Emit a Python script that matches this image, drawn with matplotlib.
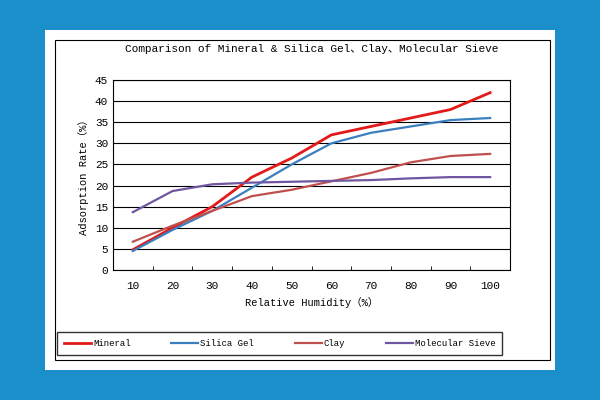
import numpy as np
import matplotlib.pyplot as plt
from matplotlib.patches import Rectangle

# Datos
humidity = ['10', '20', '30', '40', '50', '60', '70', '80', '90', '100']
mineral = [4.8, 10.0, 15.0, 22.0, 26.5, 32.0, 34.0, 36.0, 38.0, 42.0]
silica_gel = [4.5, 9.5, 14.0, 19.5, 25.0, 30.0, 32.5, 34.0, 35.5, 36.0]
clay = [6.7, 10.5, 14.0, 17.5, 19.0, 21.0, 23.0, 25.5, 27.0, 27.5]
molecular_sieve = [13.7, 18.7, 20.3, 20.7, 20.9, 21.1, 21.3, 21.7, 22.0, 22.0]

plt.rcParams['font.family'] = 'Liberation Mono'

# Figura con fondo azul y tarjeta blanca
fig = plt.figure(figsize=(6, 4), dpi=100, facecolor='#1a8fc9')
fig.patches.append(Rectangle((45/600, 1-370/400), 510/600, 340/400, transform=fig.transFigure,
                             facecolor='white', edgecolor='none', zorder=-2))
fig.patches.append(Rectangle((55/600, 1-360/400), 495/600, 320/400, transform=fig.transFigure,
                             facecolor='none', edgecolor='black', lw=0.8, zorder=-1))

ax = fig.add_axes([113/600, 1-270/400, 397/600, 190/400])
ax.set_zorder(2)
x = np.arange(len(humidity))
ax.plot(x, mineral, color='#e31a1a', lw=2, label='Mineral')
ax.plot(x, silica_gel, color='#3a7fc0', lw=1.6, label='Silica Gel')
ax.plot(x, clay, color='#c0504d', lw=1.6, label='Clay')
ax.plot(x, molecular_sieve, color='#7056a0', lw=1.6, label='Molecular Sieve')

ax.set_xlim(-0.5, len(humidity) - 0.5)
ax.set_ylim(0, 45)
ax.set_yticks(np.arange(0, 46, 5))
ax.set_xticks(x)
ax.set_xticklabels(humidity)
ax.set_xticks(np.arange(-0.5, len(humidity)), minor=True)
ax.tick_params(axis='x', which='major', length=0, labelsize=8, pad=8)
ax.tick_params(axis='x', which='minor', length=3, direction='in')
ax.tick_params(axis='y', length=0, labelsize=8)
ax.grid(axis='y', color='black', lw=0.8)
ax.set_axisbelow(True)
for s in ax.spines.values():
    s.set_linewidth(0.8)

ax.set_title('Comparison of Mineral & Silica Gel、Clay、Molecular Sieve', fontsize=8,
             family=['Liberation Mono', 'Noto Sans CJK SC'], pad=20)
ax.set_xlabel('Relative Humidity（%）', fontsize=7.5, family=['Liberation Mono', 'Noto Sans CJK SC'])
ax.set_ylabel('Adsorption Rate（%）', fontsize=7.5, family=['Liberation Mono', 'Noto Sans CJK SC'])

ax.legend(loc='upper center', bbox_to_anchor=(0.42, -0.3), ncol=4, frameon=True, fancybox=False,
          edgecolor='black', fontsize=6.5, handlelength=3, handletextpad=0.2, columnspacing=4.5,
          borderpad=0.8)

plt.savefig('out.png', dpi=100, facecolor=fig.get_facecolor())
